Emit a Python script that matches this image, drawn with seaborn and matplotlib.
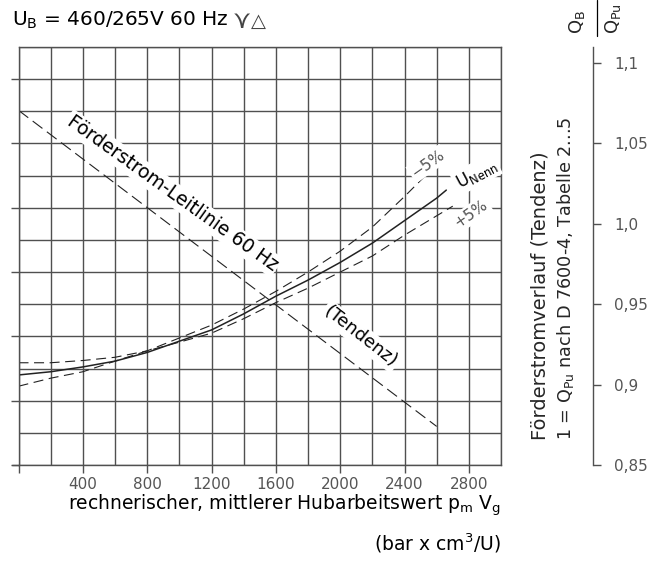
import matplotlib
matplotlib.use("Agg")
import matplotlib.pyplot as plt
import seaborn as sns
import numpy as np
import pandas as pd
from matplotlib.lines import Line2D
from matplotlib.text import Annotation

# ---------------- data ----------------
x_nenn = [0, 200, 400, 600, 800, 1000, 1200, 1400, 1600, 1800, 2000, 2200, 2400, 2600, 2660]
q_nenn = [0.906, 0.908, 0.911, 0.9146, 0.920, 0.927, 0.934, 0.944, 0.955, 0.965, 0.976, 0.988, 1.002, 1.016, 1.021]

x_minus5 = [0, 200, 400, 600, 800, 1000, 1200, 1400, 1600, 1800, 2000, 2200, 2400, 2600]
q_minus5 = [0.9136, 0.9136, 0.915, 0.917, 0.921, 0.929, 0.937, 0.947, 0.958, 0.970, 0.983, 0.998, 1.017, 1.037]

x_plus5 = [0, 200, 400, 600, 800, 1000, 1200, 1400, 1600, 1800, 2000, 2200, 2400, 2600, 2700]
q_plus5 = [0.899, 0.904, 0.908, 0.9146, 0.921, 0.9264, 0.932, 0.941, 0.951, 0.960, 0.970, 0.980, 0.993, 1.005, 1.011]

x_leit = [0, 2600]
q_leit = [1.0706, 0.874]

x_ticks = [0, 400, 800, 1200, 1600, 2000, 2400, 2800]
x_ticklabels = ["", "400", "800", "1200", "1600", "2000", "2400", "2800"]
r_ticks = [0.85, 0.90, 0.95, 1.00, 1.05, 1.10]
r_ticklabels = ["0,85", "0,9", "0,95", "1,0", "1,05", "1,1"]

# ---------------- style ----------------
sns.set_style("white")
plt.rcParams["font.family"] = ["DejaVu Sans"]
plt.rcParams["mathtext.fontset"] = "dejavusans"

GRID = "#505050"
INK = "#222222"
TICKC = "#555555"

fig = plt.figure(figsize=(6.66, 5.61), dpi=100)
L, R, B, T = 18.5, 501, 465, 47
W, H = 666, 561
ax = fig.add_axes([L / W, (H - B) / H, (R - L) / W, (B - T) / H])

ax.set_xlim(0, 3000)
ax.set_ylim(0.85, 1.11)

ax.set_xticks(x_ticks)
ax.set_xticklabels(x_ticklabels)
ax.set_xticks(np.arange(0, 3001, 200), minor=True)
ax.set_yticks(np.arange(0.85, 1.1001, 0.04))
ax.set_yticklabels([])
ax.set_yticks(np.arange(0.85, 1.1101, 0.02), minor=True)

ax.grid(True, which="both", color=GRID, linewidth=1.0)
ax.tick_params(axis="x", which="major", direction="out", length=6, width=1.0,
               color=GRID, labelsize=11, labelcolor=TICKC, pad=2.5, bottom=True)
ax.tick_params(axis="y", which="major", direction="out", length=6, width=1.0,
               color=GRID, left=True)
ax.tick_params(which="minor", length=0)
for s in ax.spines.values():
    s.set_color(GRID)
    s.set_linewidth(1.0)

# extend bottom axis line slightly to the left
ax.add_line(Line2D([-0.013, 0], [0, 0], transform=ax.transAxes, color=GRID,
                   linewidth=1.0, clip_on=False))

# ---------------- curves ----------------
sns.lineplot(x=x_leit, y=q_leit, ax=ax, color=INK, linewidth=0.8,
             linestyle=(0, (11, 5)), estimator=None)
sns.lineplot(x=x_minus5, y=q_minus5, ax=ax, color=INK, linewidth=0.8,
             linestyle=(0, (9, 5)), estimator=None)
sns.lineplot(x=x_plus5, y=q_plus5, ax=ax, color=INK, linewidth=0.8,
             linestyle=(0, (9, 5)), estimator=None)
sns.lineplot(x=x_nenn, y=q_nenn, ax=ax, color=INK, linewidth=1.1, estimator=None)

wbox = dict(facecolor="white", edgecolor="none", pad=1.5)
ax.text(955, 1.0190, "Förderstrom-Leitlinie 60 Hz", rotation=-35.5, ha="center",
        va="center", fontsize=13.5, color="black", bbox=wbox, rotation_mode="anchor")
ax.text(2128, 0.930, "(Tendenz)", rotation=-38, ha="center", va="center",
        fontsize=13, color="black", bbox=wbox, rotation_mode="anchor")
ax.text(2545, 1.0375, "−5%", rotation=35, ha="center", va="center",
        fontsize=11, color="#555555", bbox=wbox, rotation_mode="anchor")
ax.text(2846, 1.031, r"U$_{\mathrm{Nenn}}$", rotation=28, ha="center", va="center",
        fontsize=12, color="black", bbox=wbox, rotation_mode="anchor", clip_on=False)
ax.text(2814, 1.006, "+5%", rotation=35, ha="center", va="center",
        fontsize=11, color="#555555", bbox=wbox, rotation_mode="anchor")

# ---------------- right axis ----------------
ax2 = ax.twinx()
ax2.set_ylim(0.85, 1.11)
ax2.set_yticks(r_ticks)
ax2.set_yticklabels(r_ticklabels)
for name in ["left", "top", "bottom"]:
    ax2.spines[name].set_visible(False)
ax2.spines["right"].set_position(("axes", (593 - L) / (R - L)))
ax2.spines["right"].set_color(GRID)
ax2.spines["right"].set_linewidth(1.0)
ax2.tick_params(axis="y", direction="out", length=6, width=1.0, color=GRID,
                labelsize=11, labelcolor=TICKC, pad=9)
ax2.grid(False)

# ---------------- texts ----------------
title = fig.text(12 / W, 1 - 20 / H, r"U$_{\mathrm{B}}$ = 460/265V 60 Hz", ha="left",
                 va="center", fontsize=14.5, color="black")
ann1 = fig.add_artist(Annotation(
    "⋎", xy=(1, 0), xycoords=title, xytext=(3, -2), textcoords="offset points",
    fontsize=18, color="#444444", va="bottom", ha="left"))
fig.add_artist(Annotation(
    "△", xy=(1, 0), xycoords=ann1, xytext=(0, 2), textcoords="offset points",
    fontsize=14, color="#444444", va="bottom", ha="left"))

ax.text(1.0, -0.0957, r"rechnerischer, mittlerer Hubarbeitswert p$_{\mathrm{m}}$ V$_{\mathrm{g}}$",
        transform=ax.transAxes, ha="right", va="center", fontsize=13.5, color="black")
ax.text(1.0, -0.1866, r"(bar x cm$^{3}$/U)", transform=ax.transAxes, ha="right",
        va="center", fontsize=13.5, color="black")

ax.text((540 - L) / (R - L), (B - 440) / (B - T), "Förderstromverlauf (Tendenz)",
        transform=ax.transAxes, rotation=90, ha="center", va="bottom", fontsize=14)
ax.text((566 - L) / (R - L), (B - 440) / (B - T),
        r"1 = Q$_{\mathrm{Pu}}$ nach D 7600-4, Tabelle 2...5",
        transform=ax.transAxes, rotation=90, ha="center", va="bottom", fontsize=12.7)

fig.text(577 / W, 1 - 34 / H, r"Q$_{\mathrm{B}}$", rotation=90, ha="center", va="bottom",
         fontsize=13)
fig.text(613 / W, 1 - 34 / H, r"Q$_{\mathrm{Pu}}$", rotation=90, ha="center", va="bottom",
         fontsize=13)
fig.add_artist(Line2D([597 / W, 597 / W], [1 - 36 / H, 1.0], transform=fig.transFigure,
                      color="black", linewidth=0.9))

fig.savefig("out.png", dpi=100)
